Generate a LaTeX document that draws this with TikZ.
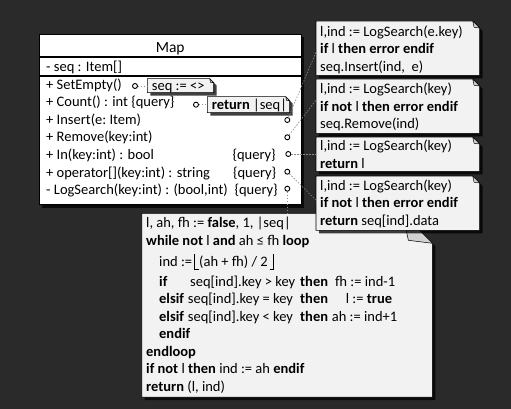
\documentclass[tikz,border=0pt]{standalone}
\usepackage{fontspec}
\setmainfont{Carlito}
\usetikzlibrary{shadows,calc}
\pgfdeclarelayer{background}
\pgfsetlayers{background,main}
\definecolor{bgdark}{RGB}{42,42,42}
\definecolor{notefill}{RGB}{242,242,242}
\definecolor{flapfill}{RGB}{210,210,210}
\definecolor{conncol}{RGB}{140,140,140}
\tikzset{
  txt/.style={font=\fontsize{14.5}{17.5}\selectfont, inner sep=0pt, anchor=base west, text=black},
  area/.style 2 args={inner sep=0pt, minimum width=#1, minimum height=#2, anchor=north west},
  shadowed/.style={drop shadow={shadow xshift=3pt, shadow yshift=-3pt, fill=black, opacity=0.75}},
  noteframe/.style={draw=black, line width=0.6pt, fill=notefill, line join=miter, shadowed},
  classframe/.style={draw=black, line width=1.3pt, fill=white, shadowed},
  sep/.style={draw=black, line width=1.3pt},
  flap/.style={draw=black, line width=0.5pt, fill=flapfill, line join=round},
  port/.style={circle, draw=black, fill=white, line width=0.9pt, minimum size=5pt, inner sep=0pt},
  conn/.style={draw=conncol, line width=0.6pt, dash pattern=on 1.5pt off 1.5pt},
  floorline/.style={draw=black, line width=1.3pt, line cap=butt, line join=miter}
}
\newcommand\drawnote[2]{%
  \path[noteframe] (#1.north west) -- ([xshift=-#2]#1.north east) -- ([yshift=-#2]#1.north east)
     -- (#1.south east) -- (#1.south west) -- cycle;
  \path[flap] ([xshift=-#2]#1.north east) -- ([yshift=-#2]#1.north east)
     -- ([xshift=-0.8*#2, yshift=-0.9*#2]#1.north east) -- cycle;
}
\begin{document}
\begin{tikzpicture}[x=1pt,y=-1pt]
\useasboundingbox (0,0) rectangle (511,409);
% areas
\node[area={261.7pt}{170pt}] (map) at (39.3,34.3) {};
\node[area={66pt}{13.6pt}] (seqn) at (147.3,78.7) {};
\node[area={82pt}{15.6pt}] (retn) at (207.3,96.7) {};
\node[area={163.3pt}{54pt}] (n1) at (316,21) {};
\node[area={163.3pt}{54pt}] (n2) at (316,79) {};
\node[area={163.3pt}{34pt}] (n3) at (316,137) {};
\node[area={163.3pt}{54pt}] (n4) at (316,176) {};
\node[area={290.3pt}{183.4pt}] (big) at (141.7,213.3) {};
\begin{pgfonlayer}{background}
  \fill[bgdark] (0,0) rectangle (511,409);
  \path[classframe] (map.north west) rectangle (map.south east);
  \path[sep] (map.west |- 0,57) -- (map.east |- 0,57);
  \path[sep] (map.west |- 0,76) -- (map.east |- 0,76);
  \drawnote{seqn}{4pt}
  \drawnote{retn}{4pt}
  \drawnote{n1}{7pt}
  \drawnote{n2}{7pt}
  \drawnote{n3}{7pt}
  \drawnote{big}{30pt}
  \drawnote{n4}{7pt}
\end{pgfonlayer}
% class texts
\node[txt, anchor=base, font=\fontsize{15.5}{17.5}\selectfont] (tMap) at (170.2,52.8) {Map};
\node[txt] (tAttr) at (46,71.8) {- seq : Item[]};
\node[txt] (o1) at (46,89.5) {+ SetEmpty()};
\node[txt] (o2) at (46,107) {+ Count() : int \{query\}};
\node[txt] (o3) at (46,124.5) {+ Insert(e:\ Item)};
\node[txt] (o4) at (46,142) {+ Remove(key:int)};
\node[txt] (o5) at (46,159.5) {+ In(key:int) : bool};
\node[txt] (o6) at (46,177) {+ operator[](key:int) : string};
\node[txt] (o7) at (46,194.5) {- LogSearch(key:int) : (bool,int)};
\node[txt, anchor=base east] (q5) at (276,159.5) {\{query\}};
\node[txt, anchor=base east] (q6) at (276.5,177) {\{query\}};
\node[txt, anchor=base east] (q7) at (278,194.5) {\{query\}};
% small notes
\node[txt] (tSeqN) at (151.7,90.5) {seq := <>};
\node[txt] (tRetN) at (211.7,109.8) {\textbf{return} |seq|};
% right notes
\node[txt] (n1a) at (320,36.2) {l,ind := LogSearch(e.key)};
\node[txt] (n1b) at (320,53.7) {\textbf{if} l \textbf{then error endif}};
\node[txt] (n1c) at (320,71.2) {seq.Insert(ind,\ \ e)};
\node[txt] (n2a) at (320,93.8) {l,ind := LogSearch(key)};
\node[txt] (n2b) at (320,111.3) {\textbf{if not} l \textbf{then error endif}};
\node[txt] (n2c) at (320,128.8) {seq.Remove(ind)};
\node[txt] (n3a) at (320,150.5) {l,ind := LogSearch(key)};
\node[txt] (n3b) at (320,168) {\textbf{return} l};
\node[txt] (n4a) at (320,190.2) {l,ind := LogSearch(key)};
\node[txt] (n4b) at (320,207.7) {\textbf{if not} l \textbf{then error endif}};
\node[txt] (n4c) at (320,225.2) {\textbf{return} seq[ind].data};
% big note
\node[txt] (b1) at (146,227.8) {l, ah, fh := \textbf{false}, 1, |seq|};
\node[txt] (b2) at (146,245.3) {\textbf{while not} l \textbf{and} ah ≤ fh \textbf{loop}};
\node[txt] (b3) at (159,266) {ind :=};
\node[txt] (b3m) at (199,266) {(ah + fh) / 2};
\draw[floorline] (194.5,254) -- (194.5,269.5) -- (198.5,269.5);
\draw[floorline] ([xshift=1.5pt]b3m.base east |- 0,269.5) -- ([xshift=5.5pt]b3m.base east |- 0,269.5) -- ([xshift=5.5pt]b3m.base east |- 0,254);
\node[txt] (b4) at (159,286) {\makebox[31pt][l]{\textbf{if}}\makebox[110pt][l]{seq[ind].key > key}\makebox[35pt][l]{\textbf{then}}fh := ind-1};
\node[txt] (b5) at (159,303.5) {\makebox[28.7pt][l]{\textbf{elsif}}\makebox[112.3pt][l]{seq[ind].key = key}\makebox[45.7pt][l]{\textbf{then}}l := \textbf{true}};
\node[txt] (b6) at (159,321) {\makebox[28.7pt][l]{\textbf{elsif}}\makebox[112.3pt][l]{seq[ind].key < key}\makebox[31.7pt][l]{\textbf{then}}ah := ind+1};
\node[txt] (b7) at (159,338.5) {\textbf{endif}};
\node[txt] (b8) at (146,356) {\textbf{endloop}};
\node[txt] (b9) at (146,373.5) {\textbf{if not} l \textbf{then} ind := ah \textbf{endif}};
\node[txt] (b10) at (146,391) {\textbf{return} (l, ind)};
% ports
\node[port] (pSet) at (135,86) {};
\node[port] (pCnt) at (196,104.7) {};
\node[port] (pIns) at (287.3,120) {};
\node[port] (pRem) at (287.3,137.3) {};
\node[port] (pIn) at (288.3,154) {};
\node[port] (pOp) at (287.3,171.7) {};
\node[port] (pLog) at (287.3,188.7) {};
% connectors
\draw[conn] (pSet) -- (seqn.west |- pSet);
\draw[conn] (pCnt) -- (retn.west |- pCnt);
\draw[conn] (pIns) -- ([yshift=-4pt]n1.west);
\draw[conn] (pRem) -- ([yshift=6pt]n2.west);
\draw[conn] (pIn) -- (n3.west |- pIn);
\draw[conn] (pOp) -- ([yshift=3pt]n4.west);
\draw[conn] (pLog) -- (pLog |- big.north);
\end{tikzpicture}
\end{document}
